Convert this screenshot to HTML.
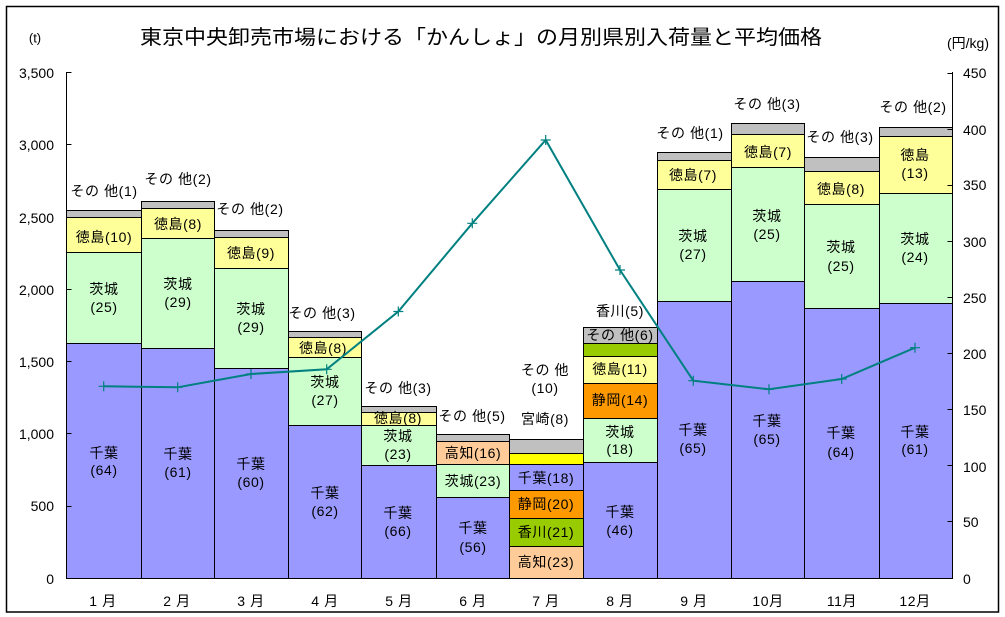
<!DOCTYPE html>
<html><head><meta charset="utf-8"><style>
html,body{margin:0;padding:0;background:#fff;}
svg{display:block;}
text{font-family:"Liberation Sans","Noto Sans CJK JP",sans-serif;fill:#000;}
.l{font-size:14px;text-anchor:middle;dominant-baseline:central;letter-spacing:0.6px;}
.ax{font-size:14px;dominant-baseline:central;}
</style></head><body>
<svg width="1005" height="617" viewBox="0 0 1005 617" xmlns="http://www.w3.org/2000/svg">
<rect x="0" y="0" width="1005" height="617" fill="#fff"/>
<rect x="6.5" y="6.5" width="992" height="605.5" fill="#fff" stroke="#000" stroke-width="1.5"/>
<text x="140" y="38" font-size="20" textLength="682" lengthAdjust="spacingAndGlyphs" dominant-baseline="central">東京中央卸売市場における「かんしょ」の月別県別入荷量と平均価格</text>
<text x="35" y="38" font-size="13" text-anchor="middle" dominant-baseline="central">(t)</text>
<text x="968" y="43" font-size="14" text-anchor="middle" dominant-baseline="central">(円/kg)</text>

<g stroke="#000" stroke-width="1">
<!-- M1 -->
<rect x="66.5" y="343.5" width="75" height="235" fill="#9999FF"/>
<rect x="66.5" y="252.5" width="75" height="91" fill="#CCFFCC"/>
<rect x="66.5" y="217.5" width="75" height="35" fill="#FFFF99"/>
<rect x="66.5" y="210.5" width="75" height="7" fill="#C0C0C0"/>
<!-- M2 -->
<rect x="141.5" y="348.5" width="73" height="230" fill="#9999FF"/>
<rect x="141.5" y="238.5" width="73" height="110" fill="#CCFFCC"/>
<rect x="141.5" y="208.5" width="73" height="30" fill="#FFFF99"/>
<rect x="141.5" y="201.5" width="73" height="7" fill="#C0C0C0"/>
<!-- M3 -->
<rect x="214.5" y="368.5" width="74" height="210" fill="#9999FF"/>
<rect x="214.5" y="268.5" width="74" height="100" fill="#CCFFCC"/>
<rect x="214.5" y="237.5" width="74" height="31" fill="#FFFF99"/>
<rect x="214.5" y="230.5" width="74" height="7" fill="#C0C0C0"/>
<!-- M4 -->
<rect x="288.5" y="425.5" width="73" height="153" fill="#9999FF"/>
<rect x="288.5" y="357.5" width="73" height="68" fill="#CCFFCC"/>
<rect x="288.5" y="337.5" width="73" height="20" fill="#FFFF99"/>
<rect x="288.5" y="331.5" width="73" height="6" fill="#C0C0C0"/>
<!-- M5 -->
<rect x="361.5" y="465.5" width="75" height="113" fill="#9999FF"/>
<rect x="361.5" y="425.5" width="75" height="40" fill="#CCFFCC"/>
<rect x="361.5" y="412.5" width="75" height="13" fill="#FFFF99"/>
<rect x="361.5" y="406.5" width="75" height="6" fill="#C0C0C0"/>
<!-- M6 -->
<rect x="436.5" y="497.5" width="73" height="81" fill="#9999FF"/>
<rect x="436.5" y="464.5" width="73" height="33" fill="#CCFFCC"/>
<rect x="436.5" y="441.5" width="73" height="23" fill="#FFCC99"/>
<rect x="436.5" y="434.5" width="73" height="7" fill="#C0C0C0"/>
<!-- M7 -->
<rect x="509.5" y="546.5" width="74" height="32" fill="#FFCC99"/>
<rect x="509.5" y="518.5" width="74" height="28" fill="#99CC00"/>
<rect x="509.5" y="490.5" width="74" height="28" fill="#FF9900"/>
<rect x="509.5" y="464.5" width="74" height="26" fill="#9999FF"/>
<rect x="509.5" y="453.5" width="74" height="11" fill="#FFFF00"/>
<rect x="509.5" y="439.5" width="74" height="14" fill="#C0C0C0"/>
<!-- M8 -->
<rect x="583.5" y="462.5" width="74" height="116" fill="#9999FF"/>
<rect x="583.5" y="418.5" width="74" height="44" fill="#CCFFCC"/>
<rect x="583.5" y="383.5" width="74" height="35" fill="#FF9900"/>
<rect x="583.5" y="356.5" width="74" height="27" fill="#FFFF99"/>
<rect x="583.5" y="343.5" width="74" height="13" fill="#99CC00"/>
<rect x="583.5" y="327.5" width="74" height="16" fill="#C0C0C0"/>
<!-- M9 -->
<rect x="657.5" y="301.5" width="74" height="277" fill="#9999FF"/>
<rect x="657.5" y="189.5" width="74" height="112" fill="#CCFFCC"/>
<rect x="657.5" y="160.5" width="74" height="29" fill="#FFFF99"/>
<rect x="657.5" y="152.5" width="74" height="8" fill="#C0C0C0"/>
<!-- M10 -->
<rect x="731.5" y="281.5" width="73" height="297" fill="#9999FF"/>
<rect x="731.5" y="167.5" width="73" height="114" fill="#CCFFCC"/>
<rect x="731.5" y="134.5" width="73" height="33" fill="#FFFF99"/>
<rect x="731.5" y="123.5" width="73" height="11" fill="#C0C0C0"/>
<!-- M11 -->
<rect x="804.5" y="308.5" width="75" height="270" fill="#9999FF"/>
<rect x="804.5" y="204.5" width="75" height="104" fill="#CCFFCC"/>
<rect x="804.5" y="171.5" width="75" height="33" fill="#FFFF99"/>
<rect x="804.5" y="157.5" width="75" height="14" fill="#C0C0C0"/>
<!-- M12 -->
<rect x="879.5" y="303.5" width="73" height="275" fill="#9999FF"/>
<rect x="879.5" y="193.5" width="73" height="110" fill="#CCFFCC"/>
<rect x="879.5" y="136.5" width="73" height="57" fill="#FFFF99"/>
<rect x="879.5" y="127.5" width="73" height="9" fill="#C0C0C0"/>
</g>

<!-- axes -->
<g stroke="#000" stroke-width="1" fill="none">
<path d="M66.5 72V578.5H952.5V72"/>
<path d="M66.5 72.5h5M66.5 144.5h5M66.5 217.5h5M66.5 289.5h5M66.5 361.5h5M66.5 433.5h5M66.5 506.5h5"/>
<path d="M952.5 73.5h-5M952.5 129.5h-5M952.5 185.5h-5M952.5 241.5h-5M952.5 297.5h-5M952.5 353.5h-5M952.5 409.5h-5M952.5 465.5h-5M952.5 521.5h-5"/>
</g>
<g class="ax" text-anchor="end">
<text x="54" y="73">3,500</text>
<text x="54" y="145">3,000</text>
<text x="54" y="218">2,500</text>
<text x="54" y="290">2,000</text>
<text x="54" y="362">1,500</text>
<text x="54" y="434">1,000</text>
<text x="54" y="506">500</text>
<text x="54" y="579">0</text>
</g>
<g class="ax" text-anchor="start">
<text x="963" y="73">450</text>
<text x="963" y="130">400</text>
<text x="963" y="185">350</text>
<text x="963" y="242">300</text>
<text x="963" y="298">250</text>
<text x="963" y="354">200</text>
<text x="963" y="410">150</text>
<text x="963" y="467">100</text>
<text x="963" y="522">50</text>
<text x="963" y="579">0</text>
</g>
<g class="l" font-size="14">
<text x="103" y="601">1 月</text><text x="177" y="601">2 月</text><text x="251" y="601">3 月</text>
<text x="325" y="601">4 月</text><text x="399" y="601">5 月</text><text x="473" y="601">6 月</text>
<text x="546" y="601">7 月</text><text x="620" y="601">8 月</text><text x="694" y="601">9 月</text>
<text x="768" y="601">10月</text><text x="842" y="601">11月</text><text x="915" y="601">12月</text>
</g>

<!-- labels -->
<g class="l">
<text x="104" y="191">その 他(1)</text>
<text x="104" y="237">徳島(10)</text>
<text x="104" y="289">茨城</text><text x="104" y="307">(25)</text>
<text x="104" y="453">千葉</text><text x="104" y="470">(64)</text>

<text x="178" y="179">その 他(2)</text>
<text x="178" y="224">徳島(8)</text>
<text x="178" y="284">茨城</text><text x="178" y="302">(29)</text>
<text x="178" y="454">千葉</text><text x="178" y="472">(61)</text>

<text x="250" y="209">その 他(2)</text>
<text x="251" y="253">徳島(9)</text>
<text x="251" y="309">茨城</text><text x="251" y="327">(29)</text>
<text x="251" y="464">千葉</text><text x="251" y="482">(60)</text>

<text x="322" y="313">その 他(3)</text>
<text x="323" y="348">徳島(8)</text>
<text x="325" y="382">茨城</text><text x="325" y="400">(27)</text>
<text x="325" y="493">千葉</text><text x="325" y="511">(62)</text>

<text x="398" y="388">その 他(3)</text>
<text x="398" y="418">徳島(8)</text>
<text x="398" y="436">茨城</text><text x="398" y="454">(23)</text>
<text x="398" y="513">千葉</text><text x="398" y="531">(66)</text>

<text x="472" y="416">その 他(5)</text>
<text x="473" y="453">高知(16)</text>
<text x="473" y="481">茨城(23)</text>
<text x="473" y="528">千葉</text><text x="473" y="547">(56)</text>

<text x="545" y="370">その 他</text>
<text x="545" y="388">(10)</text>
<text x="545" y="419">宮崎(8)</text>
<text x="546" y="478">千葉(18)</text>
<text x="546" y="504">静岡(20)</text>
<text x="546" y="532">香川(21)</text>
<text x="546" y="562">高知(23)</text>

<text x="620" y="311">香川(5)</text>
<text x="620" y="335">その 他(6)</text>
<text x="620" y="369">徳島(11)</text>
<text x="620" y="400">静岡(14)</text>
<text x="620" y="432">茨城</text><text x="620" y="449">(18)</text>
<text x="620" y="512">千葉</text><text x="620" y="530">(46)</text>

<text x="690" y="133">その 他(1)</text>
<text x="693" y="175">徳島(7)</text>
<text x="693" y="236">茨城</text><text x="693" y="254">(27)</text>
<text x="693" y="430">千葉</text><text x="693" y="448">(65)</text>

<text x="767" y="104">その 他(3)</text>
<text x="768" y="152">徳島(7)</text>
<text x="767" y="216">茨城</text><text x="767" y="234">(25)</text>
<text x="767" y="421">千葉</text><text x="767" y="439">(65)</text>

<text x="840" y="137">その 他(3)</text>
<text x="841" y="189">徳島(8)</text>
<text x="841" y="247">茨城</text><text x="841" y="266">(25)</text>
<text x="841" y="433">千葉</text><text x="841" y="452">(64)</text>

<text x="913" y="107">その 他(2)</text>
<text x="915" y="155">徳島</text><text x="915" y="173">(13)</text>
<text x="915" y="239">茨城</text><text x="915" y="257">(24)</text>
<text x="915" y="432">千葉</text><text x="915" y="449">(61)</text>
</g>

<!-- price line -->
<polyline fill="none" stroke="#008080" stroke-width="2" points="103.7,386.3 177.7,387.3 251,374 326.7,369.3 398.3,311.5 472.3,223.3 545.7,140 620,270 693.3,380.7 769,389.3 841.7,379 915,347.7"/>
<g stroke="#008080" stroke-width="1.2">
<path d="M98.7 386.3h10M103.7 381.3v10"/>
<path d="M172.7 387.3h10M177.7 382.3v10"/>
<path d="M246 374h10M251 369v10"/>
<path d="M321.7 369.3h10M326.7 364.3v10"/>
<path d="M393.3 311.5h10M398.3 306.5v10"/>
<path d="M467.3 223.3h10M472.3 218.3v10"/>
<path d="M540.7 140h10M545.7 135v10"/>
<path d="M615 270h10M620 265v10"/>
<path d="M688.3 380.7h10M693.3 375.7v10"/>
<path d="M764 389.3h10M769 384.3v10"/>
<path d="M836.7 379h10M841.7 374v10"/>
<path d="M910 347.7h10M915 342.7v10"/>
</g>
</svg>
</body></html>
